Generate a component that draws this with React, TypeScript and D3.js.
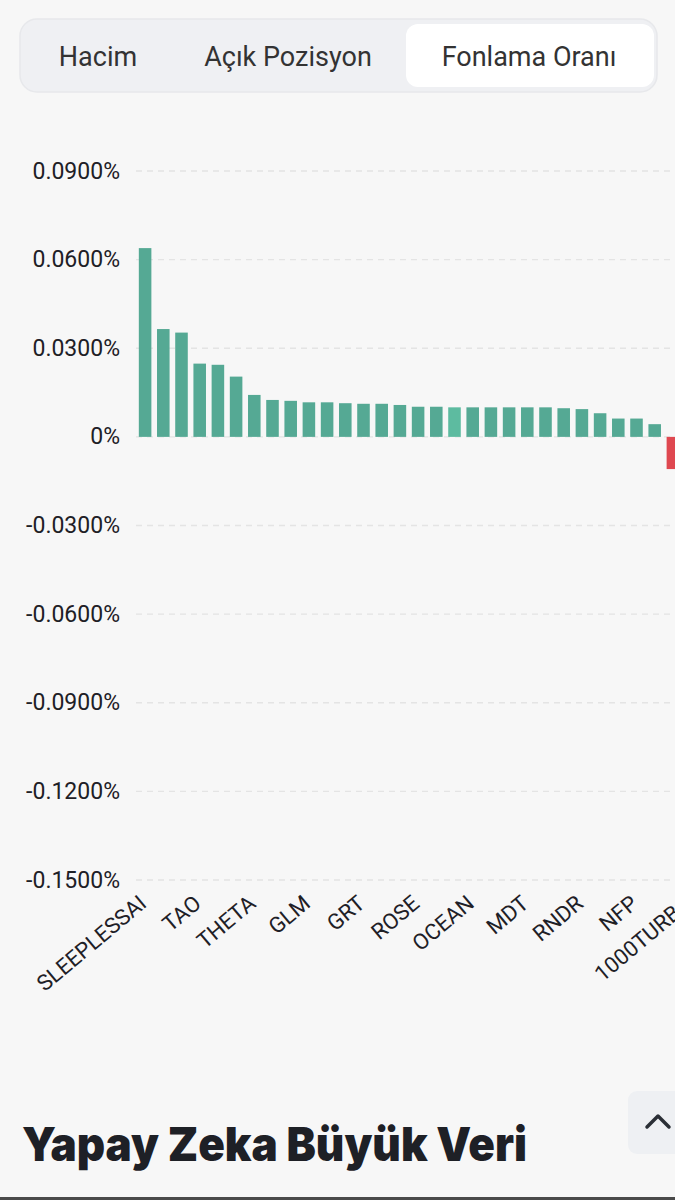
import React from "react";
import * as d3 from "d3";

const categories = [
  "SLEEPLESSAI", "FET", "AGIX", "TAO", "WLD", "ARKM", "THETA", "AI", "PHB", "GLM",
  "NMR", "IQ", "GRT", "CTXC", "RSS3", "ROSE", "AIOZ", "CGPT", "OCEAN", "HFT",
  "LPT", "MDT", "ORAI", "PAAL", "RNDR", "AKT", "0X0", "NFP", "MAVIA", "GPU", "1000TURBO",
];
const fundingRates = [
  0.0639, 0.0365, 0.0353, 0.0248, 0.0244, 0.0204, 0.0142, 0.0125, 0.0122, 0.0117,
  0.0117, 0.0114, 0.0112, 0.0112, 0.0108, 0.0102, 0.0102, 0.0100, 0.0100, 0.0100,
  0.0100, 0.0100, 0.0100, 0.0097, 0.0094, 0.0080, 0.0062, 0.0062, 0.0043, -0.0109, -0.0120,
];
const highlightedIndex = 17;
const yTicks = [0.09, 0.06, 0.03, 0, -0.03, -0.06, -0.09, -0.12, -0.15];
const labelEvery = 3;
const tabs = ["Hacim", "Açık Pozisyon", "Fonlama Oranı"];
const tabCenters = [98, 288, 529];
const sectionTitle = "Yapay Zeka Büyük Veri";

const W = 675;
const H = 1200;
const plotLeft = 136;
const step = 18.2;
const bg = "#f7f7f7";
const green = "#55a994";
const greenLight = "#5dbba0";
const red = "#df4850";

export default function App() {
  const x = d3
    .scaleBand<string>()
    .domain(categories)
    .range([plotLeft, plotLeft + step * categories.length])
    .padding(0);
  const y = d3.scaleLinear().domain([-0.15, 0.09]).range([880, 171]);
  const bw = x.bandwidth() * 0.69;
  const fmt = (v: number) => (v === 0 ? "0%" : v.toFixed(4) + "%");

  return (
    <div style={{ position: "absolute", left: 0, top: 0, width: W, height: H, overflow: "hidden" }}>
      <svg width={W} height={H} style={{ display: "block" }}>
        <rect x={0} y={0} width={W} height={H} fill={bg} />

        {/* tabs */}
        <rect x={20} y={19} width={637} height={73} rx={17} fill="#eff0f3" stroke="#e7e8eb" strokeWidth={1.5} />
        <rect x={406} y={24} width={248} height={63} rx={12} fill="#ffffff" />
        {tabs.map((t, i) => (
          <text
            key={t}
            x={tabCenters[i]}
            y={57}
            textAnchor="middle"
            dominantBaseline="central"
            fontFamily="Roboto, 'Noto Sans', sans-serif"
            fontSize={27}
            fill="#333"
          >
            {t}
          </text>
        ))}

        {/* grid + y labels */}
        {yTicks.map((v) => (
          <g key={v}>
            <line
              x1={plotLeft}
              x2={W}
              y1={y(v)}
              y2={y(v)}
              stroke="#e4e4e4"
              strokeWidth={1.3}
              strokeDasharray="6,5"
            />
            <text
              x={120}
              y={y(v)}
              textAnchor="end"
              dominantBaseline="central"
              fontFamily="Roboto, 'Noto Sans', sans-serif"
              fontSize={23}
              fill="#1e2026"
            >
              {fmt(v)}
            </text>
          </g>
        ))}

        {/* bars */}
        {categories.map((c, i) => {
          const v = fundingRates[i];
          const x0 = (x(c) as number) + (x.bandwidth() - bw) / 2;
          const top = Math.min(y(v), y(0));
          const h = Math.abs(y(v) - y(0));
          const fill = v < 0 ? red : i === highlightedIndex ? greenLight : green;
          return <rect key={c} x={x0} y={top} width={bw} height={h} fill={fill} />;
        })}

        {/* x labels */}
        {categories.map((c, i) =>
          i % labelEvery === 0 ? (
            <text
              key={"l" + c}
              transform={`translate(${(x(c) as number) + x.bandwidth() / 2 - 2},${900}) rotate(-40)`}
              textAnchor="end"
              dominantBaseline="central"
              fontFamily="Roboto, 'Noto Sans', sans-serif"
              fontSize={22}
              fill="#1e2026"
            >
              {c}
            </text>
          ) : null
        )}

        {/* section title */}
        <text
          x={22}
          y={1161}
          fontFamily="Inter, Roboto, sans-serif"
          fontWeight={900}
          fontSize={47}
          fill="#1e2026"
          textLength={505}
          lengthAdjust="spacingAndGlyphs"
        >
          {sectionTitle}
        </text>

        {/* scroll-up button */}
        <rect x={628} y={1091} width={60} height={63} rx={9} fill="#eef0f3" />
        <path d="M647,1127 L658,1116 L669,1127" fill="none" stroke="#2b2f36" strokeWidth={3.5} strokeLinecap="round" strokeLinejoin="round" />

        <rect x={0} y={1197} width={W} height={3} fill="#4a4a4a" />
      </svg>
    </div>
  );
}
